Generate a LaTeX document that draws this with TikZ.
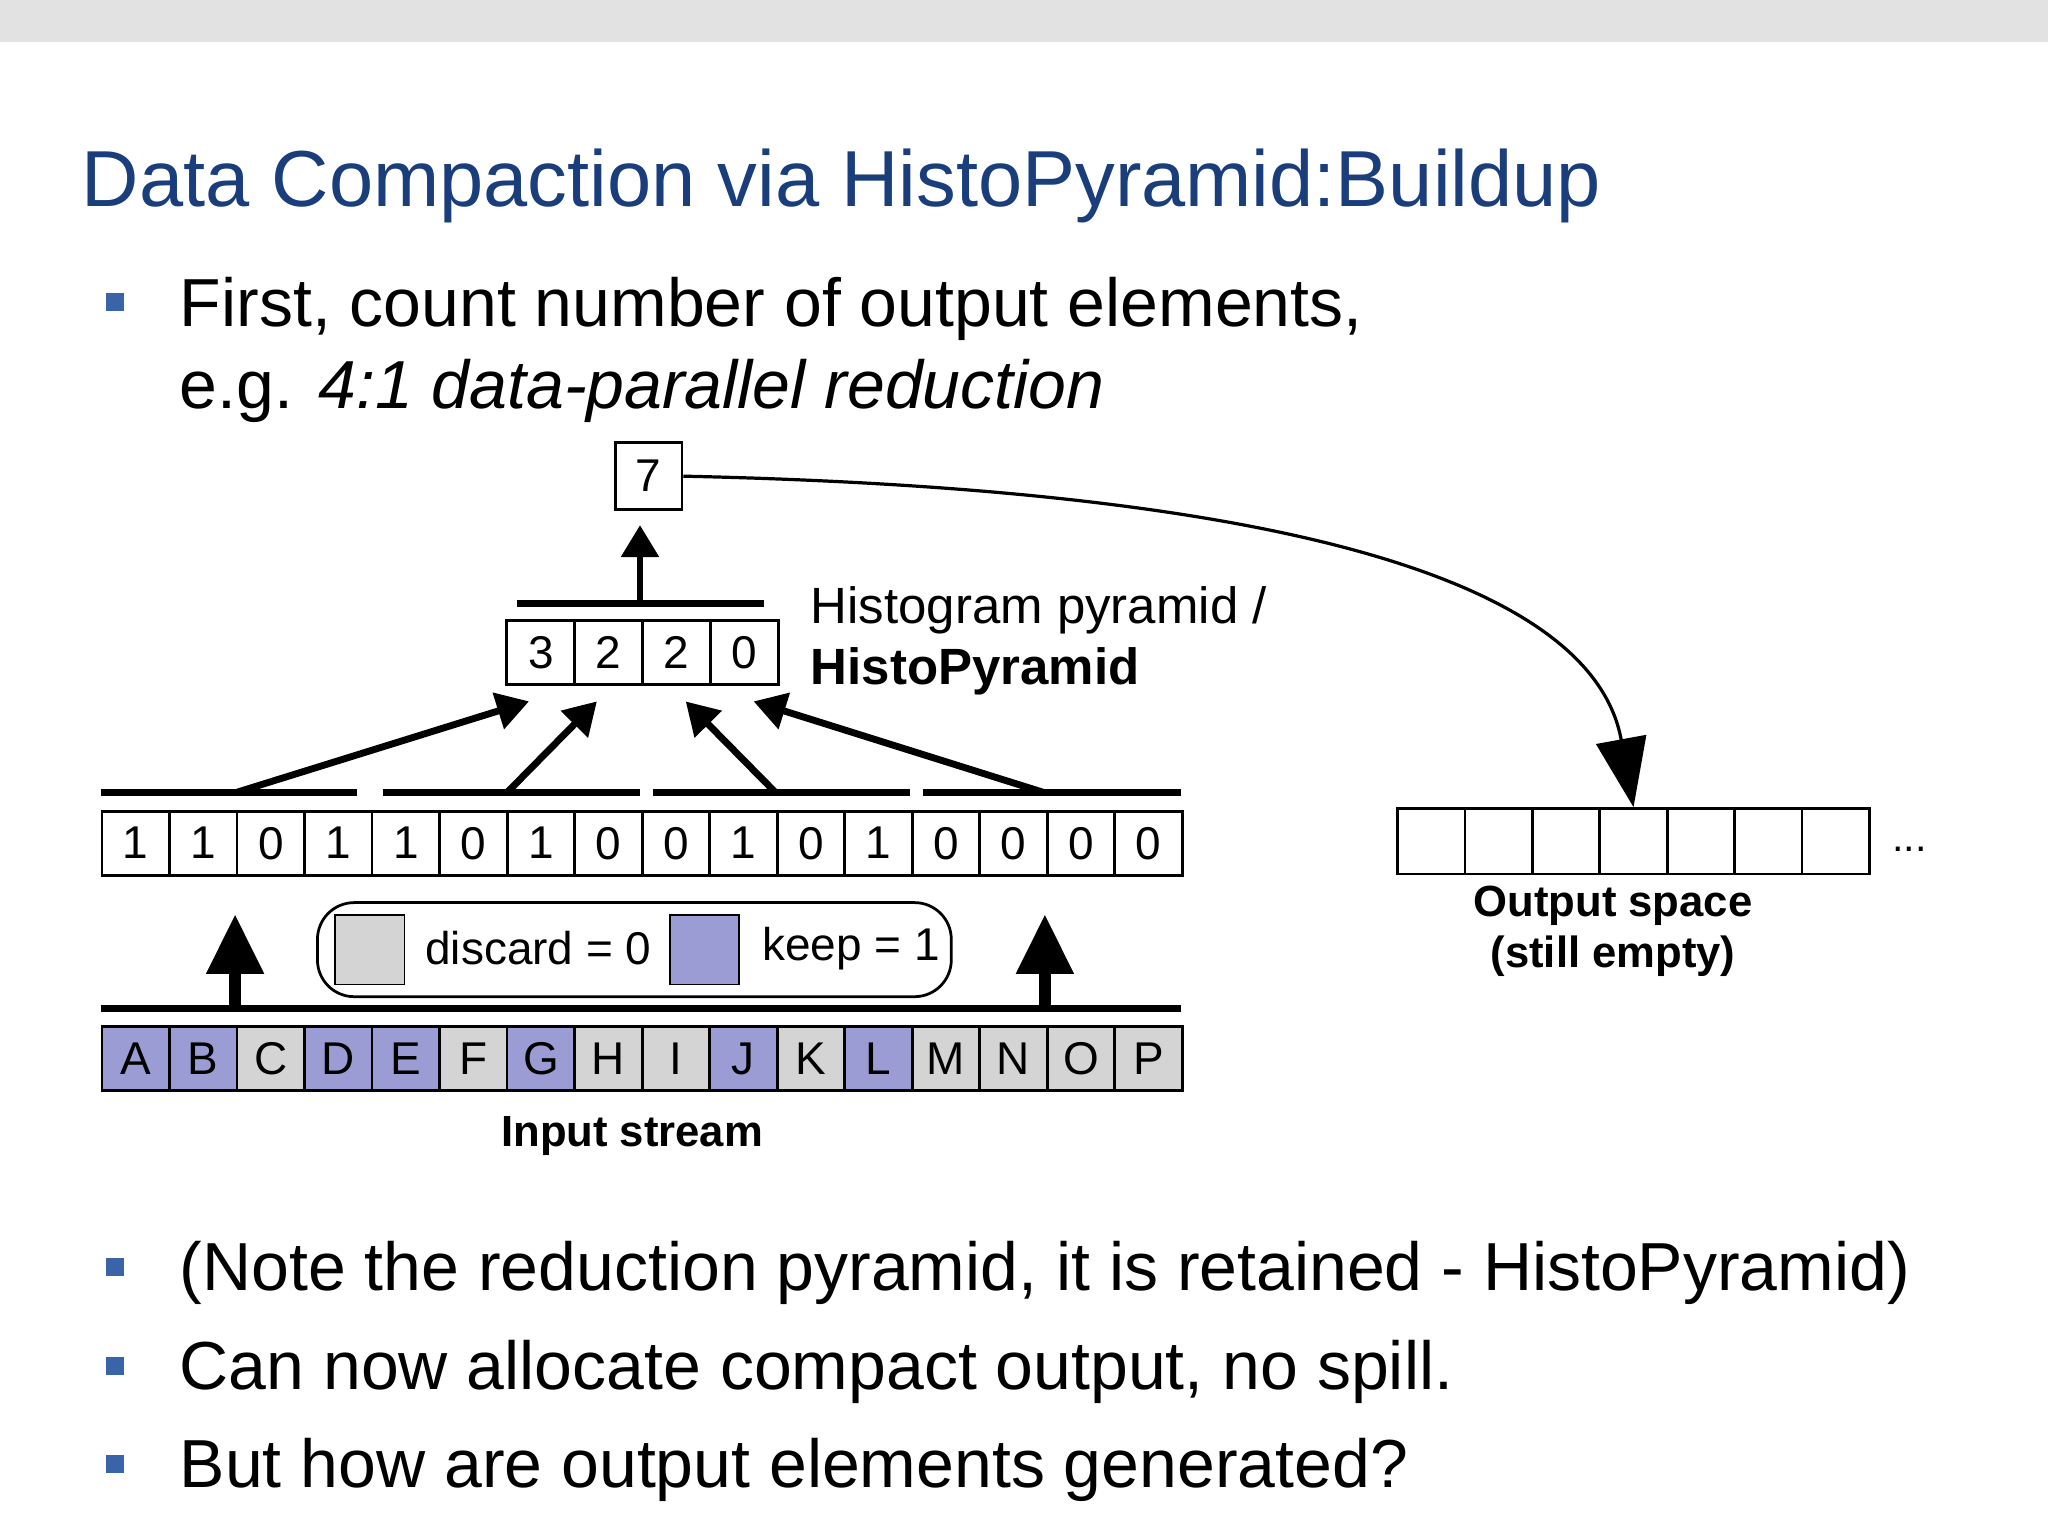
\documentclass[tikz,border=0pt]{standalone}
\usepackage{fontspec}
\setmainfont{Liberation Sans}
\usetikzlibrary{arrows.meta}
\definecolor{titleblue}{HTML}{1A3E7C}
\definecolor{bulblue}{HTML}{3A64A8}
\definecolor{keepc}{HTML}{9C9CD4}
\definecolor{discc}{HTML}{D4D4D4}
\definecolor{band}{HTML}{E2E2E2}
\tikzset{
 cell/.style={draw=black,line width=0.6pt,minimum width=0.517cm,minimum height=0.49cm,inner sep=0,anchor=north west,font=\fontsize{10}{12}\selectfont},
 bar/.style={line width=1.6pt},
 thick arrow/.style={line width=1.5pt,-{Triangle[length=7pt,width=8pt]}},
 big arrow/.style={line width=2.5pt,-{Triangle[length=13pt,width=12pt]}},
 bul/.style={fill=bulblue,minimum size=0.14cm,inner sep=0},
 btext/.style={anchor=base west,font=\fontsize{14.8}{18}\selectfont,inner sep=0},
}
\begin{document}
\begin{tikzpicture}[x=0.01cm,y=-0.01cm]
\useasboundingbox (0,0) rectangle (1568,1176);
\fill[band] (0,0) rectangle (1568,32);
\node[anchor=base west,inner sep=0,text=titleblue,font=\fontsize{17.3}{20}\selectfont] (title) at (62,158) {Data Compaction via HistoPyramid:Buildup};
\node[bul] (b1) at (88,231) {};
\node[btext] (t1) at (137,250) {First, count number of output elements,};
\node[btext] (t1b) at (137,313) {e.g. \textit{4:1 data-parallel reduction}};
% top node
\node[cell,minimum width=0.51cm,minimum height=0.51cm] (seven) at (470,338) {7};
% pyramid level
\foreach \v [count=\i from 0] in {3,2,2,0}{
 \node[cell,minimum width=0.52cm] (p\i) at (387+\i*52,474) {\v};}
\draw[bar] (396,462) -- (585,462);
\node[anchor=base west,inner sep=0,font=\fontsize{11.1}{13}\selectfont] (hl1) at (620,477) {Histogram pyramid /};
\node[anchor=base west,inner sep=0,font=\fontsize{11.1}{13}\selectfont\bfseries] (hl2) at (620,524) {HistoPyramid};
% value row
\foreach \v [count=\i from 0] in {1,1,0,1,1,0,1,0,0,1,0,1,0,0,0,0}{
 \node[cell] (v\i) at (77+\i*51.7,620) {\v};}
% input row
\foreach \l/\k [count=\i from 0] in {A/1,B/1,C/0,D/1,E/1,F/0,G/1,H/0,I/0,J/1,K/0,L/1,M/0,N/0,O/0,P/0}{
 \ifnum\k=1 \def\cc{keepc}\else\def\cc{discc}\fi
 \node[cell,fill=\cc] (in\i) at (77+\i*51.7,785) {\l};}
% bars
\coordinate (s0) at (180,607); \coordinate (s1) at (388,607);
\coordinate (s2) at (594,607); \coordinate (s3) at (800,607);
\draw[bar] (77,607) -- (273,607);
\draw[bar] (293,607) -- (490,607);
\draw[bar] (500,607) -- (697,607);
\draw[bar] (707,607) -- (904,607);
\draw[bar] (77,772) -- (904,772);
% arrows
\coordinate (e0) at (405,537); \coordinate (e1) at (457,537);
\coordinate (e2) at (525,537); \coordinate (e3) at (577,537);
\foreach \i in {0,1,2,3}{\draw[thick arrow] (s\i) -- (e\i);}
\coordinate (pb) at (490,462); \coordinate (pt) at (490,402);
\draw[thick arrow] (pb) -- (pt);
\coordinate (ua) at (180,772); \coordinate (ub) at (180,700);
\coordinate (uc) at (800,772); \coordinate (ud) at (800,700);
\draw[big arrow] (ua) -- (ub);
\draw[big arrow] (uc) -- (ud);
% legend
\node[draw,rounded corners=8pt,line width=0.6pt,minimum width=4.85cm,minimum height=0.72cm,anchor=north west] (leg) at (242,690) {};
\node[draw,fill=discc,minimum size=0.53cm,inner sep=0,anchor=north west] (lg1) at (256,700) {};
\node[anchor=west,inner sep=0,font=\fontsize{10}{12}\selectfont] (lt1) at (325,726) {discard = 0};
\node[draw,fill=keepc,minimum size=0.53cm,inner sep=0,anchor=north west] (lg2) at (512,700) {};
\node[anchor=west,inner sep=0,font=\fontsize{10}{12}\selectfont] (lt2) at (583,726) {keep = 1};
\node[font=\fontsize{9.5}{12}\selectfont\bfseries] (inl) at (484,870) {Input stream};
% output space
\foreach \i in {0,...,6}{\node[cell,minimum width=0.516cm,minimum height=0.5cm] (o\i) at (1069+\i*51.6,618) {};}
\node[font=\fontsize{9}{10}\selectfont] (dots) at (1462,650) {...};
\node[align=center,font=\fontsize{9.5}{11.2}\selectfont\bfseries] (ol) at (1235,713) {Output space\\(still empty)};
\draw[line width=0.7pt,-{Triangle[length=15pt,width=11pt]}] (seven.east) .. controls (1000,375) and (1220,450) .. (o3.north);
% bottom bullets
\node[bul] (b2) at (88,970) {};
\node[btext] (t2) at (137,988) {(Note the reduction pyramid, it is retained - HistoPyramid)};
\node[bul] (b3) at (88,1046) {};
\node[btext] (t3) at (137,1064) {Can now allocate compact output, no spill.};
\node[bul] (b4) at (88,1121) {};
\node[btext] (t4) at (137,1139) {But how are output elements generated?};
\end{tikzpicture}
\end{document}
